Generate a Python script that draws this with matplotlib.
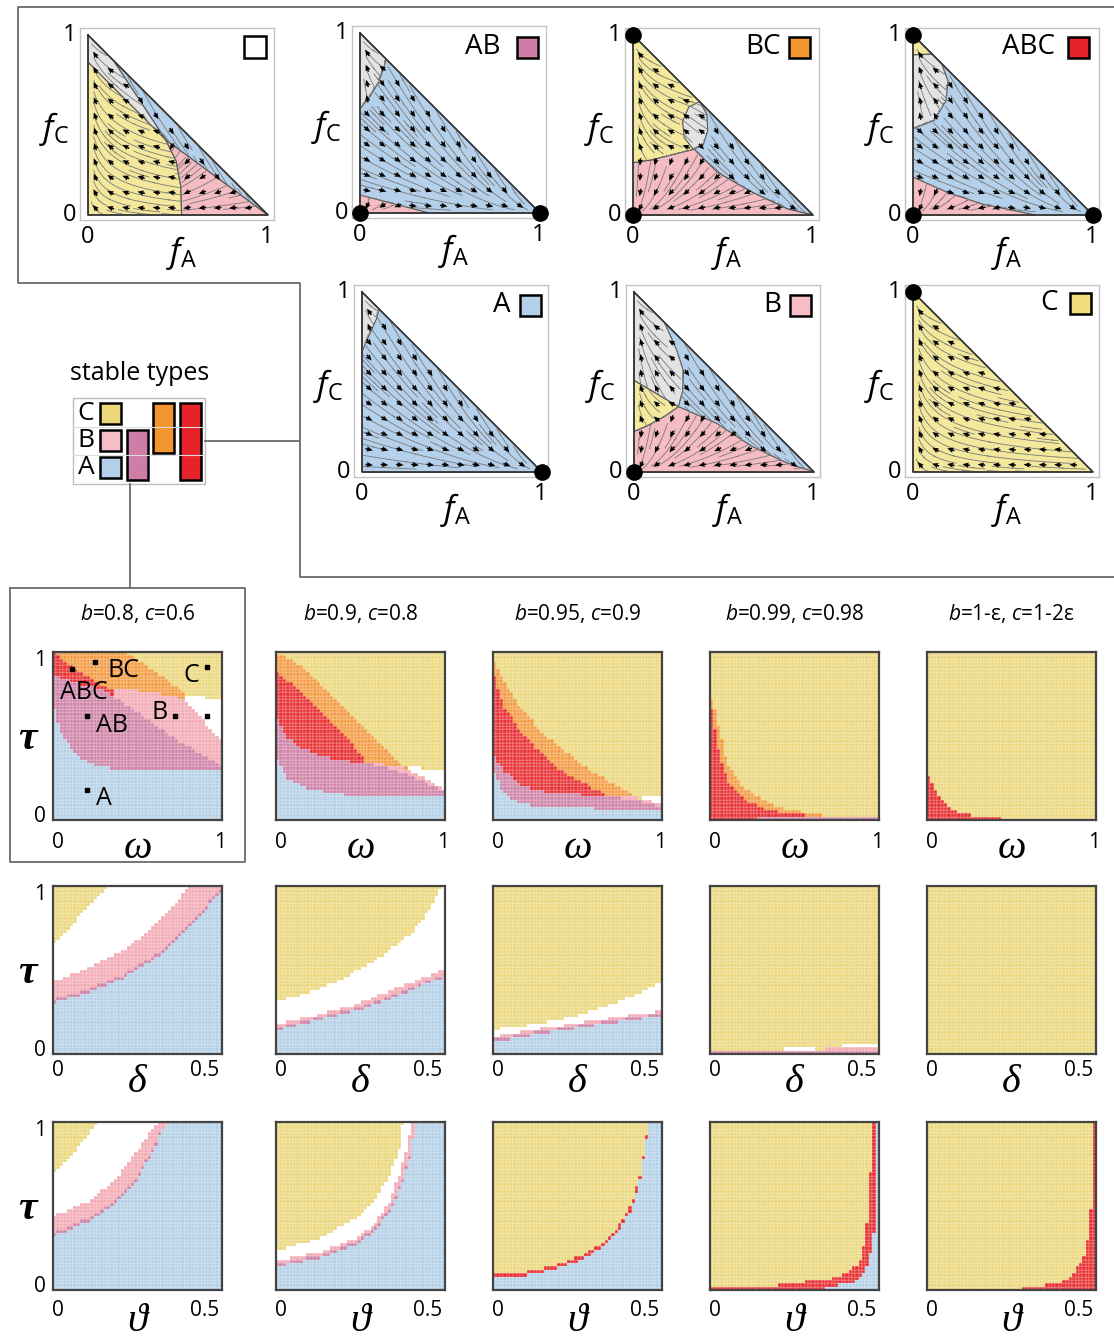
import numpy as np
import matplotlib.pyplot as plt
from matplotlib.colors import ListedColormap
from matplotlib.lines import Line2D
from matplotlib.patches import Polygon, Rectangle
from matplotlib.path import Path

plt.rcParams['font.family'] = ['Open Sans', 'DejaVu Sans']
plt.rcParams['mathtext.fontset'] = 'custom'
plt.rcParams['mathtext.it'] = 'Open Sans:italic'
plt.rcParams['mathtext.rm'] = 'Open Sans'
plt.rcParams['mathtext.bf'] = 'Open Sans:bold'

# ---------------- heatmap data (upper boundary of each band, bottom to top) ----------------
BANDS = ["A", "AB", "ABC", "B", "BC", "none", "C"]
BAND_COLORS = ["#b2cee6", "#cd7ea4", "#e8282c", "#f3a8b2", "#f4983c", "#ffffff", "#ebd678"]

titles = ["$b$=0.8, $c$=0.6", "$b$=0.9, $c$=0.8", "$b$=0.95, $c$=0.9",
          "$b$=0.99, $c$=0.98", "$b$=1-ε, $c$=1-2ε"]

omega_1 = {
    "A": ([0, .03, .07, .12, .18, .25, .35, .5, .7, 1], [.70, .58, .48, .41, .36, .33, .31, .30, .30, .30]),
    "AB": ([0, .1, .2, .3, .4, .5, .6, .7, .8, .9, 1], [.86, .83, .80, .77, .71, .64, .57, .50, .44, .38, .32]),
    "ABC": ([0, .05, .1, .2, .3, .36, .4, 1], [1.0, .96, .92, .86, .80, .77, 0, 0]),
    "B": ([0, .3, .4, .5, .6, .7, .78, .85, .9, .95, 1], [0, .77, .775, .77, .76, .74, .72, .64, .58, .52, .46]),
    "BC": ([0, .42, .54, .66, .78, .8, 1], [1.0, 1.0, .93, .85, .75, 0, 0]),
    "none": ([0, .77, .79, 1], [0, 0, .74, .72]),
}
omega_2 = {
    "A": ([0, .02, .07, .15, .25, .34, .5, .64, 1], [.39, .33, .25, .20, .175, .155, .14, .135, .135]),
    "AB": ([0, .02, .07, .15, .25, .35, .45, .52, .64, .78, .9, 1],
           [.63, .58, .49, .43, .39, .365, .35, .345, .315, .275, .215, .165]),
    "ABC": ([0, .07, .15, .25, .35, .45, .52, .56, 1], [.89, .83, .755, .655, .555, .455, .36, 0, 0]),
    "B": ([0, .5, .6, .74, .78, .88, .94, 1], [0, .35, .335, .315, .305, .255, .215, .185]),
    "BC": ([0, .035, .145, .245, .34, .44, .54, .64, .74, .78, .8, 1],
           [.97, .99, .915, .835, .735, .635, .535, .435, .335, .31, 0, 0]),
    "none": ([0, .77, .79, 1], [0, 0, .315, .30]),
}
omega_3 = {
    "A": ([0, .02, .05, .1, .15, .25, .4, .6, 1], [.30, .26, .19, .13, .105, .085, .075, .07, .065]),
    "AB": ([0, .02, .07, .15, .25, .45, .6, .74, .9, 1], [.40, .36, .29, .215, .175, .155, .145, .135, .105, .08]),
    "ABC": ([0, .02, .07, .15, .25, .35, .47, .58, .65, .7, 1], [.9, .8, .67, .55, .43, .335, .255, .195, .16, 0, 0]),
    "B": ([0, .7, .78, .9, 1], [0, .13, .145, .12, .09]),
    "BC": ([0, .07, .145, .245, .345, .445, .545, .645, .745, .82, .86, 1],
           [.96, .815, .695, .575, .475, .395, .315, .255, .195, .155, 0, 0]),
    "none": ([0, .87, .89, 1], [0, 0, .145, .145]),
}
omega_4 = {
    "AB": ([0, .25, .3, 1], [0, 0, .015, .015]),
    "ABC": ([0, .02, .05, .1, .2, .35, .5, .67, .72, 1], [.72, .6, .42, .24, .12, .06, .035, .02, 0, 0]),
    "BC": ([0, .02, .05, .1, .2, .35, .5, .67, .78, .8, 1], [.74, .72, .56, .34, .19, .10, .055, .03, .025, 0, 0]),
}
omega_5 = {
    "ABC": ([0, .02, .05, .1, .2, .3, .42, .45, 1], [.29, .25, .18, .10, .04, .025, .02, 0, 0]),
}

delta_1 = {
    "A": ([0, .106, .213, .319, .394, .457, .495, .5], [.307, .366, .455, .594, .733, .871, .97, 1.0]),
    "AB": ([0, .106, .213, .319, .394, .457, .495, .5], [.327, .386, .475, .614, .753, .891, .99, 1.0]),
    "B": ([0, .106, .213, .287, .351, .404, .5], [.426, .515, .624, .733, .871, 1.0, 1.0]),
    "none": ([0, .053, .096, .16, .5], [.653, .752, .871, 1.0, 1.0]),
}
delta_2 = {
    "A": ([0, .133, .239, .346, .452, .5], [.139, .208, .257, .337, .426, .455]),
    "AB": ([0, .133, .239, .346, .452, .5], [.155, .223, .272, .352, .441, .47]),
    "B": ([0, .133, .239, .346, .452, .5], [.174, .238, .297, .386, .465, .515]),
    "none": ([0, .08, .186, .293, .399, .452, .489, .5], [.317, .356, .436, .554, .713, .851, .99, 1.0]),
}
delta_3 = {
    "A": ([0, .123, .222, .322, .422, .5], [.075, .115, .145, .176, .206, .226]),
    "AB": ([0, .123, .222, .322, .422, .5], [.09, .13, .16, .191, .221, .241]),
    "B": ([0, .123, .222, .322, .422, .5], [.105, .145, .175, .206, .236, .256]),
    "none": ([0, .123, .222, .322, .422, .5], [.146, .176, .216, .275, .355, .425]),
}
delta_4 = {
    "AB": ([0, .5], [.015, .015]),
    "B": ([0, .33, .34, .5], [0, 0, .035, .035]),
    "none": ([0, .22, .225, .31, .315, .385, .39, .5], [0, 0, .035, .035, 0, 0, .055, .055]),
}
delta_5 = {}

theta_1 = {
    "A": ([0, .106, .18, .245, .287, .319, .34, .5], [.32, .41, .51, .65, .79, .93, 1.0, 1.0]),
    "AB": ([0, .106, .18, .245, .287, .319, .34, .5], [.34, .43, .53, .67, .81, .95, 1.0, 1.0]),
    "B": ([0, .106, .18, .234, .277, .309, .5], [.44, .53, .65, .79, .91, 1.0, 1.0]),
    "none": ([0, .053, .096, .138, .5], [.68, .79, .91, 1.0, 1.0]),
}
theta_2 = {
    "A": ([0, .129, .237, .29, .344, .376, .398, .414, .5], [.14, .19, .27, .35, .49, .65, .81, 1.0, 1.0]),
    "AB": ([0, .129, .237, .29, .344, .376, .398, .414, .5], [.155, .205, .29, .37, .51, .67, .83, 1.0, 1.0]),
    "B": ([0, .129, .237, .29, .335, .366, .388, .404, .5], [.175, .225, .31, .39, .53, .69, .85, 1.0, 1.0]),
    "none": ([0, .129, .237, .29, .333, .366, .376, .5], [.23, .31, .43, .53, .67, .85, 1.0, 1.0]),
}
theta_3 = {
    "A": ([0, .073, .173, .252, .322, .372, .412, .437, .452, .462, .5],
          [.07, .08, .12, .17, .25, .35, .49, .67, .87, 1.0, 1.0]),
    "ABC": ([0, .073, .173, .252, .322, .372, .412, .437, .452, .462, .5],
            [.09, .10, .14, .195, .275, .38, .52, .70, .90, 1.0, 1.0]),
}
theta_4 = {
    "A": ([0, .33, .35, .42, .45, .47, .485, .49, .5], [0, 0, .02, .04, .08, .15, .35, 1.0, 1.0]),
    "ABC": ([0, .2, .21, .34, .39, .44, .46, .47, .475, .48, .5],
            [.02, .02, .04, .06, .09, .15, .3, .5, .7, 1.0, 1.0]),
}
theta_5 = {
    "ABC": ([0, .27, .28, .39, .43, .463, .484, .49, .5], [0, 0, .02, .035, .09, .19, .37, 1.0, 1.0]),
}

omega_panels = [omega_1, omega_2, omega_3, omega_4, omega_5]
delta_panels = [delta_1, delta_2, delta_3, delta_4, delta_5]
theta_panels = [theta_1, theta_2, theta_3, theta_4, theta_5]

# markers in the first panel (omega, tau) and their labels
mark_w = [0.11, 0.25, 0.91, 0.72, 0.91, 0.2, 0.2]
mark_t = [0.90, 0.94, 0.91, 0.62, 0.62, 0.62, 0.18]
lab_text = ["ABC", "BC", "C", "B", "AB", "A"]
lab_w = [0.18, 0.42, 0.82, 0.63, 0.35, 0.3]
lab_t = [0.76, 0.89, 0.86, 0.64, 0.56, 0.13]

# ---------------- simplex basins (fA, fC) ----------------
TRI_COL = {"A": "#b5d0ea", "B": "#f6bcc3", "C": "#f3e89c", "G": "#e3e3e3"}
FULL = [(0, 0), (1, 0), (0, 1)]

tri_none = [
    ("C", [(0, 0), (0.52, 0), (0.516, 0.156), (0.49, 0.30), (0.43, 0.42), (0, 0.85)]),
    ("B", [(0.52, 0), (1, 0), (0.43, 0.42), (0.49, 0.30), (0.516, 0.156)]),
    ("A", [(0.14, 0.86), (0.43, 0.42), (1, 0)]),
    ("G", [(0, 1), (0, 0.85), (0.43, 0.42), (0.14, 0.86)]),
]
tri_ab = [
    ("A", FULL),
    ("B", [(0, 0), (0.385, 0), (0, 0.10)]),
    ("G", [(0, 0.58), (0.05, 0.64), (0.1, 0.72), (0.13, 0.80), (0.145, 0.855), (0, 1)]),
]
tri_bc = [
    ("C", [(0, 1), (0, 0.29), (0.1, 0.305), (0.2, 0.33), (0.34, 0.365), (0.37, 0.63)]),
    ("A", [(0.37, 0.63), (0.34, 0.365), (0.47, 0.236), (0.665, 0.125), (0.86, 0.033), (1, 0)]),
    ("B", [(0, 0), (1, 0), (0.86, 0.033), (0.665, 0.125), (0.47, 0.236), (0.34, 0.365),
           (0.2, 0.33), (0.1, 0.305), (0, 0.29)]),
    ("G", [(0.37, 0.63), (0.31, 0.60), (0.275, 0.52), (0.285, 0.43), (0.335, 0.365),
           (0.39, 0.39), (0.415, 0.47), (0.41, 0.56)]),
]
tri_abc = [
    ("A", FULL),
    ("B", [(0, 0), (0.68, 0), (0.388, 0.06), (0.194, 0.124), (0, 0.21)]),
    ("G", [(0, 0.89), (0, 0.48), (0.117, 0.525), (0.184, 0.635), (0.194, 0.745), (0.16, 0.84), (0.105, 0.895)]),
    ("C", [(0, 1), (0, 0.89), (0.105, 0.895)]),
]
tri_a = [
    ("A", FULL),
    ("G", [(0, 1), (0, 0.67), (0.04, 0.76), (0.08, 0.85), (0.095, 0.905)]),
]
tri_b = [
    ("A", FULL),
    ("B", [(0, 0), (1, 0), (0.85, 0.05), (0.654, 0.143), (0.46, 0.27), (0.247, 0.363),
           (0.17, 0.31), (0.08, 0.26), (0, 0.225)]),
    ("C", [(0, 0.225), (0.08, 0.26), (0.17, 0.31), (0.247, 0.363), (0, 0.51)]),
    ("G", [(0, 1), (0, 0.51), (0.247, 0.363), (0.27, 0.45), (0.275, 0.56), (0.24, 0.67), (0.169, 0.831)]),
]
tri_c = [("C", FULL)]

# stable vertices
dots_none = []
dots_ab = [(0, 0), (1, 0)]
dots_bc = [(0, 1), (0, 0)]
dots_abc = [(0, 1), (0, 0), (1, 0)]
dots_a = [(1, 0)]
dots_b = [(0, 0)]
dots_c = [(0, 1)]

# ---------------- figure ----------------
W, H = 1114, 1340
fig = plt.figure(figsize=(W / 100, H / 100), dpi=100)


def fx(x):
    return x / W


def fy(y):
    return 1 - y / H


def px_axes(left, top, width, height):
    return fig.add_axes([fx(left), fy(top + height), width / W, height / H])


def fig_line(xs, ys, color="#6b6b6b", lw=1.3):
    fig.add_artist(Line2D([fx(x) for x in xs], [fy(y) for y in ys],
                          transform=fig.transFigure, color=color, lw=lw))


def fig_box(x0, y0, x1, y1, fc, ec="k", lw=1.8):
    fig.add_artist(Rectangle((fx(x0), fy(y1)), (x1 - x0) / W, (y1 - y0) / H,
                             transform=fig.transFigure, fc=fc, ec=ec, lw=lw))


def flow(kind, X, Y):
    # rough flow towards the attracting corner of each basin
    if kind == "A":
        return 1 - X, -1.8 * Y
    if kind == "B":
        return -X, -2.0 * Y
    if kind == "C":
        return -2.5 * X, (1 - Y) * (Y + 0.08)
    return -1.2 * X, 0.6 * (1 - Y)


def kinds_at(regions, X, Y):
    pts = np.column_stack([X.ravel(), Y.ravel()])
    kind = np.full(X.size, "", dtype=object)
    for key, poly in regions:
        kind[Path(poly).contains_points(pts, radius=1e-9)] = key
    return kind.reshape(X.shape)


def field(regions, X, Y):
    kind = kinds_at(regions, X, Y)
    U = np.zeros_like(X)
    V = np.zeros_like(X)
    for key in "ABCG":
        m = kind == key
        u, v = flow(key, X, Y)
        U[m] = u[m]
        V[m] = v[m]
    bad = (X + Y > 1.0) | (kind == "")
    return U, V, bad


def draw_triangle(x0, y0, regions, dots):
    ax = px_axes(x0 - 8, y0 - 187, 194, 192)
    ax.set_xlim(-8 / 180, 186 / 180)
    ax.set_ylim(-5 / 180, 187 / 180)
    ax.set_xticks([])
    ax.set_yticks([])
    for s in ax.spines.values():
        s.set_color("#c4c4c4")
        s.set_linewidth(1.0)
    for key, poly in regions:
        ax.add_patch(Polygon(poly, closed=True, fc=TRI_COL[key], ec="#555555", lw=0.8, zorder=1))
    g = np.linspace(0, 1, 121)
    X, Y = np.meshgrid(g, g)
    U, V, bad = field(regions, X, Y)
    U = np.ma.masked_where(bad, U)
    V = np.ma.masked_where(bad, V)
    ax.streamplot(g, g, U, V, density=1.1, color="#7a7a7a", linewidth=0.6,
                  arrowsize=0.01, zorder=2)
    a = np.arange(0.04, 1, 0.085)
    AX, AY = np.meshgrid(a, a)
    keep = (AX + AY) < 0.94
    AX, AY = AX[keep], AY[keep]
    au, av, abad = field(regions, AX, AY)
    nrm = np.hypot(au, av) + 1e-9
    ok = ~abad
    ax.quiver(AX[ok], AY[ok], (au / nrm)[ok], (av / nrm)[ok], angles="xy", scale_units="xy",
              scale=1 / 0.042, width=0.008, headwidth=3.5, headlength=4, headaxislength=3.6,
              pivot="mid", color="k", zorder=4)
    ax.plot([0, 0, 1, 0], [1, 0, 0, 1], color="#333333", lw=1.2, zorder=5)
    for d in dots:
        ax.plot(*d, "o", ms=11, color="k", clip_on=False, zorder=6)
    kw = dict(fontsize=17, ha="center", va="center", clip_on=False)
    ax.text(-0.1, 1.0, "1", **kw)
    ax.text(-0.1, 0.0, "0", **kw)
    ax.text(0.0, -0.12, "0", **kw)
    ax.text(0.99, -0.12, "1", **kw)
    ax.text(-0.19, 0.48, r"$f_{\mathrm{C}}$", fontsize=24, ha="center", va="center")
    ax.text(0.52, -0.21, r"$f_{\mathrm{A}}$", fontsize=24, ha="center", va="center")
    return ax


# big frame around the simplex panels
fig_line([1114, 18, 18, 300, 300, 1114], [7, 7, 283, 283, 577, 577])
fig_line([205, 300], [441, 441])
fig_line([130, 130], [484, 588])
fig_line([10, 245, 245, 10, 10], [588, 588, 862, 862, 588])

draw_triangle(88, 215, tri_none, dots_none)
draw_triangle(360, 213, tri_ab, dots_ab)
draw_triangle(633, 215, tri_bc, dots_bc)
draw_triangle(913, 215, tri_abc, dots_abc)
draw_triangle(362, 472, tri_a, dots_a)
draw_triangle(634, 472, tri_b, dots_b)
draw_triangle(913, 472, tri_c, dots_c)

# corner labels of the simplex panels
LBL = 20
fig_box(244, 36, 266, 58, "white")
fig.text(fx(483), fy(47), "AB", fontsize=LBL, ha="center", va="center")
fig_box(517, 37, 538, 58, "#ce7da6")
fig.text(fx(763), fy(47), "BC", fontsize=LBL, ha="center", va="center")
fig_box(789, 37, 810, 58, "#f4962e")
fig.text(fx(1028), fy(47), "ABC", fontsize=LBL, ha="center", va="center")
fig_box(1068, 37, 1089, 58, "#e6232a")
fig.text(fx(502), fy(305), "A", fontsize=LBL, ha="center", va="center")
fig_box(520, 295, 541, 316, "#b4cfe8")
fig.text(fx(772), fy(305), "B", fontsize=LBL, ha="center", va="center")
fig_box(790, 295, 811, 316, "#f6bdc4")
fig.text(fx(1049), fy(303), "C", fontsize=LBL, ha="center", va="center")
fig_box(1070, 293, 1091, 314, "#f1de7a")

# legend "stable types"
fig.text(fx(140), fy(373), "stable types", fontsize=18, ha="center", va="center")
fig_box(73, 398, 205, 484, "white", ec="#bdbdbd", lw=1.0)
fig_line([73, 205], [427, 427], color="#dddddd", lw=0.8)
fig_line([73, 205], [455, 455], color="#dddddd", lw=0.8)
for letter, yc in zip("CBA", [413, 440, 467]):
    fig.text(fx(86), fy(yc), letter, fontsize=19, ha="center", va="center")
fig_box(100, 403, 121, 424, "#ecd67a")
fig_box(100, 430, 121, 451, "#f6bdc4")
fig_box(100, 457, 121, 478, "#b4cfe8")
fig_box(127, 430, 148, 480, "#ce7da6")
fig_box(153, 403, 174, 453, "#f4962e")
fig_box(180, 403, 201, 480, "#e6232a")

# ---------------- heatmaps ----------------
HEAT_CMAP = ListedColormap(BAND_COLORS)
col_x = [53, 276, 493, 710, 927]
row_y = [652, 886, 1122]
row_sym = ["ω", "δ", "ϑ"]
row_max = [1.0, 0.5, 0.5]
row_tick = ["1", "0.5", "0.5"]
row_lab_y = [-0.17, -0.17, -0.19]
row_tick_y = [-0.135, -0.1, -0.12]
SERIF = ["Liberation Serif", "DejaVu Serif"]


def draw_heat(ax, bounds, xmax, n=50):
    xe = np.linspace(0, xmax, n + 1)
    te = np.linspace(0, 1, n + 1)
    xc = 0.5 * (xe[1:] + xe[:-1])
    tc = 0.5 * (te[1:] + te[:-1])
    run = np.zeros(n)
    tops = []
    for name in BANDS[:-1]:
        if name in bounds:
            xs, ts = bounds[name]
            run = np.maximum(run, np.interp(xc, xs, ts))
        tops.append(run.copy())
    tops = np.array(tops)
    idx = (tc[None, :, None] >= tops[:, None, :]).sum(axis=0)
    ax.pcolormesh(xe, te, idx, cmap=HEAT_CMAP, vmin=-0.5, vmax=6.5,
                  edgecolors=(1, 1, 1, 0.15), linewidth=0.3)
    ax.set_xlim(0, xmax)
    ax.set_ylim(0, 1)
    ax.set_xticks([])
    ax.set_yticks([])
    for s in ax.spines.values():
        s.set_color("#444444")
        s.set_linewidth(1.6)


for r, panels in enumerate([omega_panels, delta_panels, theta_panels]):
    for c, bounds in enumerate(panels):
        ax = px_axes(col_x[c], row_y[r], 169, 168)
        draw_heat(ax, bounds, row_max[r])
        tr = ax.transAxes
        ax.text(0.03, row_tick_y[r], "0", transform=tr, fontsize=15, ha="center", va="center")
        ax.text(0.99 if r == 0 else 0.9, row_tick_y[r], row_tick[r], transform=tr,
                fontsize=15, ha="center", va="center")
        ax.text(0.5, row_lab_y[r], row_sym[r], transform=tr, fontsize=29, ha="center",
                va="center", family=SERIF, style="italic")
        if r == 0:
            ax.text(0.5, 1.23, titles[c], transform=tr, fontsize=15, ha="center", va="center")
        if c == 0:
            ax.text(-0.077, 0.95, "1", transform=tr, fontsize=15, ha="center", va="center")
            ax.text(-0.077, 0.02, "0", transform=tr, fontsize=15, ha="center", va="center")
            ax.text(-0.15, 0.48, "τ", transform=tr, fontsize=30, ha="center", va="center",
                    family=SERIF, weight="bold", style="italic")
        if r == 0 and c == 0:
            ax.plot(mark_w, mark_t, "s", ms=3.5, color="k", zorder=5)
            for t, lw_, lt in zip(lab_text, lab_w, lab_t):
                ax.text(lw_, lt, t, fontsize=18, ha="center", va="center", zorder=6)

fig.savefig("out.png", dpi=100)
